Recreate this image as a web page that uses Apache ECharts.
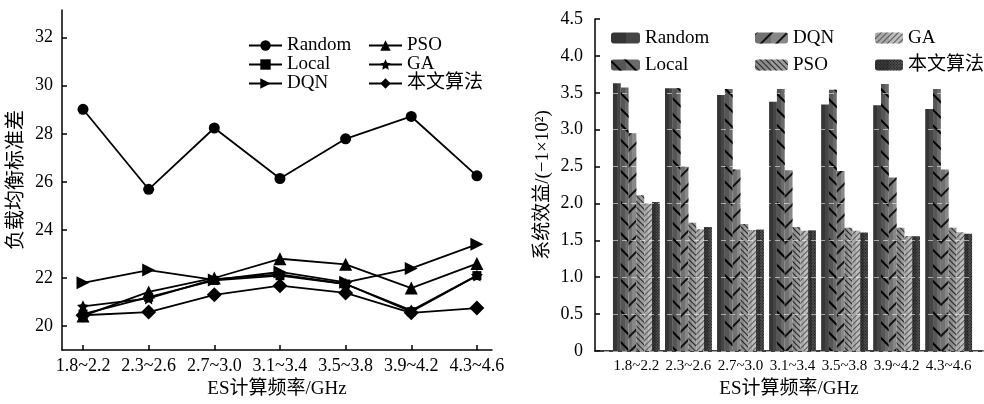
<!DOCTYPE html>
<html><head><meta charset="utf-8">
<script src="https://cdn.jsdelivr.net/npm/echarts@6/dist/echarts.min.js"></script>
<style>html,body{margin:0;padding:0;background:#fff}#c{width:984px;height:404px}</style>
</head><body><div id="c"></div>
<script>
const categories = ['1.8~2.2','2.3~2.6','2.7~3.0','3.1~3.4','3.5~3.8','3.9~4.2','4.3~4.6'];
const seriesNames = ['Random','Local','DQN','PSO','GA','本文算法'];
const leftYTicks = [20,22,24,26,28,30,32];
// left chart: load-balance standard deviation
const lbRandom = [29.02,25.69,28.24,26.14,27.79,28.72,26.25];
const lbLocal  = [20.5,21.2,21.9,22.1,21.75,20.6,22.1];
const lbDQN    = [21.8,22.33,21.92,22.25,21.82,22.4,23.4];
const lbPSO    = [20.42,21.42,22.0,22.8,22.57,21.58,22.6];
const lbGA     = [20.82,21.15,21.95,22.15,21.75,20.65,22.1];
const lbOurs   = [20.45,20.58,21.3,21.68,21.38,20.55,20.75];
// right chart: system benefit
const bnRandom = [3.63,3.56,3.47,3.38,3.34,3.33,3.28];
const bnLocal  = [3.57,3.56,3.55,3.55,3.54,3.62,3.55];
const bnDQN    = [2.95,2.50,2.46,2.45,2.44,2.35,2.46];
const bnPSO    = [2.11,1.74,1.72,1.68,1.67,1.67,1.67];
const bnGA     = [2.00,1.65,1.64,1.63,1.63,1.56,1.61];
const bnOurs   = [2.02,1.68,1.645,1.635,1.605,1.555,1.59];

const FONT = "'Liberation Serif','Noto Sans CJK SC',serif";
const idx = categories.map((c,i)=>i);
const toXY = arr => arr.map((v,i)=>[i,v]);
const SUF = '\u2060';
const strip = n => n.replace(SUF,'');
const starPath = 'path://M0,-10L2.9,-4L9.5,-3.1L4.7,1.5L5.9,8.1L0,5L-5.9,8.1L-4.7,1.5L-9.5,-3.1L-2.9,-4Z';

const lineData = [lbRandom, lbLocal, lbDQN, lbPSO, lbGA, lbOurs];
const lineSym = [
  {symbol:'circle', size:11, rot:0},
  {symbol:'rect', size:9, rot:0},
  {symbol:'triangle', size:13, rot:-90},
  {symbol:'triangle', size:13, rot:0},
  {symbol:starPath, size:12, rot:0},
  {symbol:'diamond', size:15, rot:0}
];
const lineZ = [6,2,5,4,3,7];
const barData = [bnRandom, bnLocal, bnDQN, bnPSO, bnGA, bnOurs];
function split(dark, light){
  return {type:'linear',x:0,y:0,x2:1,y2:0,colorStops:[
    {offset:0,color:dark},{offset:0.5,color:dark},{offset:0.5,color:light},{offset:1,color:light}]};
}
const barStyles = [
  {color: split('#353535','#454545')},
  {color: split('#565656','#6a6a6a'), decal:{symbol:'rect',symbolSize:1,dashArrayX:[1,0],dashArrayY:[1.6,9],rotation:Math.PI/4,color:'#000'}},
  {color: split('#727272','#888888'), decal:{symbol:'rect',symbolSize:1,dashArrayX:[1,0],dashArrayY:[1.6,9],rotation:-Math.PI/4,color:'#111'}},
  {color: split('#8a8a8a','#9c9c9c'), decal:{symbol:'rect',symbolSize:1,dashArrayX:[1,0],dashArrayY:[1,2.2],rotation:Math.PI/4,color:'#222'}},
  {color: split('#a8a8a8','#bcbcbc'), decal:{symbol:'rect',symbolSize:1,dashArrayX:[1,0],dashArrayY:[1,2.2],rotation:-Math.PI/4,color:'#555'}},
  {color: split('#3c3c3c','#505050'), decal:{symbol:'rect',symbolSize:1,dashArrayX:[1,1],dashArrayY:[1,1],rotation:Math.PI/4,color:'#111'}}
];

const series = [];
seriesNames.forEach((n,k)=>{
  series.push({
    name:n, type:'line', xAxisIndex:0, yAxisIndex:0,
    data: toXY(lineData[k]),
    symbol: lineSym[k].symbol, symbolSize: lineSym[k].size, symbolRotate: lineSym[k].rot,
    lineStyle:{color:'#000', width:1.8}, itemStyle:{color:'#000'}, z: lineZ[k]
  });
});
seriesNames.forEach((n,k)=>{
  series.push({
    name:n+SUF, type:'bar', xAxisIndex:1, yAxisIndex:1,
    data: toXY(barData[k]),
    barGap:'0%', barCategoryGap:'10%',
    itemStyle: barStyles[k]
  });
});

const axisLine = {show:true, onZero:false, lineStyle:{color:'#000', width:1.5}};
const legendText = {fontSize:19, fontFamily:FONT, color:'#000'};
const option = {
  animation:false,
  textStyle:{fontFamily:FONT},
  grid:[
    {left:62, top:10, width:430, height:344},
    {left:595, top:19, right:1, height:336}
  ],
  legend:[
    {data:['Random','Local','DQN'], orient:'vertical', left:243, top:31, itemWidth:33, itemHeight:13, itemGap:0,
     textStyle:Object.assign({lineHeight:19}, legendText)},
    {data:['PSO','GA','本文算法'], orient:'vertical', left:363, top:31, itemWidth:33, itemHeight:13, itemGap:0,
     textStyle:Object.assign({lineHeight:19}, legendText)},
    {data:['Random'+SUF,'Local'+SUF], orient:'vertical', left:606, top:23, itemWidth:29, itemHeight:11, itemGap:7,
     formatter: strip, textStyle:Object.assign({lineHeight:20}, legendText)},
    {data:['DQN'+SUF,'PSO'+SUF], orient:'vertical', left:750, top:23, itemWidth:33, itemHeight:11, itemGap:7,
     formatter: strip, textStyle:Object.assign({lineHeight:20}, legendText)},
    {data:['GA'+SUF,'本文算法'+SUF], orient:'vertical', left:870, top:23, itemWidth:28, itemHeight:11, itemGap:7,
     formatter: strip, textStyle:Object.assign({lineHeight:20}, legendText)}
  ],
  xAxis:[
    {gridIndex:0, type:'value', min:-0.32, max:6.23,
     axisLine: axisLine, splitLine:{show:false},
     axisTick:{show:true, inside:true, length:5, customValues: idx, lineStyle:{color:'#000', width:1.5}},
     axisLabel:{customValues: idx, formatter: v=>categories[Math.round(v)], fontSize:18, color:'#000', margin:7, fontFamily:FONT},
     name:'ES计算频率/GHz', nameLocation:'middle', nameGap:29,
     nameTextStyle:{fontSize:19, color:'#000', fontFamily:FONT}},
    {gridIndex:1, type:'value', min:-0.795, max:6.66,
     axisLine: axisLine, splitLine:{show:false},
     axisTick:{show:false},
     axisLabel:{customValues: idx, formatter: v=>categories[Math.round(v)], fontSize:15, color:'#000', margin:8, fontFamily:FONT, hideOverlap:false},
     name:'ES计算频率/GHz', nameLocation:'middle', nameGap:29,
     nameTextStyle:{fontSize:19, color:'#000', fontFamily:FONT}}
  ],
  yAxis:[
    {gridIndex:0, type:'value', min:19, max:33.15,
     axisLine: axisLine, splitLine:{show:false},
     axisTick:{show:true, inside:true, length:5, customValues: leftYTicks, lineStyle:{color:'#000', width:1.5}},
     axisLabel:{customValues: leftYTicks, fontSize:18, color:'#000', margin:9, fontFamily:FONT},
     name:'负载均衡标准差', nameLocation:'middle', nameGap:35,
     nameTextStyle:{fontSize:20, color:'#000', fontFamily:FONT}},
    {gridIndex:1, type:'value', min:0, max:4.5, interval:0.5, z:5,
     axisLine: axisLine,
     splitLine:{show:true, lineStyle:{color:'rgba(255,255,255,0.55)', type:[5,4], width:1}},
     axisTick:{show:true, inside:true, length:5, lineStyle:{color:'#000', width:1.5}},
     axisLabel:{formatter: v=> v===0 ? '0' : v.toFixed(1), fontSize:18, color:'#000', margin:12, fontFamily:FONT},
     name:'系统效益/(−1×10²)', nameLocation:'middle', nameGap:42,
     nameTextStyle:{fontSize:19, color:'#000', fontFamily:FONT}}
  ],
  series: series
};
const chart = echarts.init(document.getElementById('c'), null, {renderer:'canvas'});
chart.setOption(option);
</script></body></html>
